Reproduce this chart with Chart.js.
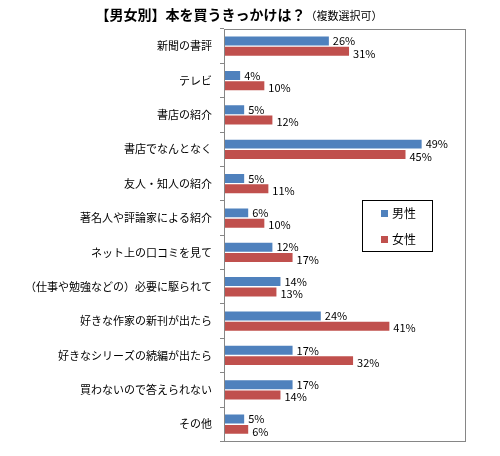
<!DOCTYPE html>
<html>
<head>
<meta charset="utf-8">
<script src="https://cdn.jsdelivr.net/npm/chart.js@4"></script>
<style>body{margin:0;background:#fff}</style>
</head>
<body>
<canvas id="myChart" width="500" height="456"></canvas>
<script>
const categories = [
  '新聞の書評', 'テレビ', '書店の紹介', '書店でなんとなく', '友人・知人の紹介',
  '著名人や評論家による紹介', 'ネット上の口コミを見て', '（仕事や勉強などの）必要に駆られて',
  '好きな作家の新刊が出たら', '好きなシリーズの続編が出たら', '買わないので答えられない', 'その他'
];
const male = [26, 4, 5, 49, 5, 6, 12, 14, 24, 17, 17, 5];
const female = [31, 10, 12, 45, 11, 10, 17, 13, 41, 32, 14, 6];
const seriesNames = ['男性', '女性'];

const FONT = '"Noto Sans CJK JP", "Noto Sans", sans-serif';
const GRAY = '#868686';

// title with a smaller suffix, drawn by hand
const titlePlugin = {
  id: 'titleText',
  beforeDraw(chart) {
    const c = chart.ctx;
    c.save();
    c.fillStyle = '#fff';
    c.fillRect(0, 0, chart.width, chart.height);
    const main = '【男女別】本を買うきっかけは？';
    const sub = '（複数選択可）';
    c.font = 'bold 14px ' + FONT;
    const w1 = c.measureText(main).width;
    c.font = '11px ' + FONT;
    const w2 = c.measureText(sub).width;
    let x = 239 - (w1 + w2) / 2;
    c.fillStyle = '#000';
    c.textBaseline = 'middle';
    c.font = 'bold 14px ' + FONT;
    c.fillText(main, x, 15);
    c.font = '11px ' + FONT;
    c.fillText(sub, x + w1, 16);
    c.restore();
  }
};

// frame round the plot area + value labels
const framePlugin = {
  id: 'frameAndLabels',
  afterDatasetsDraw(chart) {
    const c = chart.ctx;
    const a = chart.chartArea;
    c.save();
    c.strokeStyle = GRAY;
    c.lineWidth = 1;
    c.strokeRect(Math.round(a.left) + 0.5, Math.round(a.top) + 0.5,
      Math.round(a.right - a.left) - 1, Math.round(a.bottom - a.top));
    c.fillStyle = '#000';
    c.font = '11px ' + FONT;
    c.textBaseline = 'middle';
    c.textAlign = 'left';
    chart.data.datasets.forEach((ds, i) => {
      chart.getDatasetMeta(i).data.forEach((bar, j) => {
        c.fillText(ds.data[j] + '%', bar.x + 4, bar.y + (i === 1 ? 2 : 0));
      });
    });
    c.restore();
  }
};

// boxed legend inside the plot
const legendPlugin = {
  id: 'boxLegend',
  afterDraw(chart) {
    const c = chart.ctx;
    c.save();
    c.fillStyle = '#fff';
    c.fillRect(362, 200, 70, 51);
    c.strokeStyle = '#000';
    c.lineWidth = 1;
    c.strokeRect(362.5, 200.5, 70, 51);
    c.font = '12px ' + FONT;
    c.textBaseline = 'middle';
    chart.data.datasets.forEach((ds, i) => {
      const y = 213 + i * 26;
      c.fillStyle = ds.backgroundColor;
      c.fillRect(381, y - 3, 7, 7);
      c.fillStyle = '#000';
      c.fillText(ds.label, 392, y);
    });
    c.restore();
  }
};

let ctx = document.getElementById('myChart').getContext('2d');
let myChart = new Chart(ctx, {
  type: 'bar',
  data: {
    labels: categories,
    datasets: [
      { label: seriesNames[0], data: male, backgroundColor: '#4F81BD' },
      { label: seriesNames[1], data: female, backgroundColor: '#C0504D' }
    ]
  },
  options: {
    indexAxis: 'y',
    responsive: false,
    animation: false,
    categoryPercentage: 0.6,
    barPercentage: 0.87,
    layout: { padding: { top: 29, right: 34, bottom: 12, left: 0 } },
    plugins: {
      legend: { display: false },
      tooltip: { enabled: false }
    },
    scales: {
      x: { display: false, min: 0, max: 60 },
      y: {
        grid: { offset: true, drawOnChartArea: false, tickLength: 4, color: GRAY },
        border: { color: GRAY },
        ticks: { color: '#000', font: { family: FONT, size: 11 }, padding: 8, autoSkip: false },
        afterFit(scale) { scale.width = 224; }
      }
    }
  },
  plugins: [titlePlugin, framePlugin, legendPlugin]
});
</script>
</body>
</html>
